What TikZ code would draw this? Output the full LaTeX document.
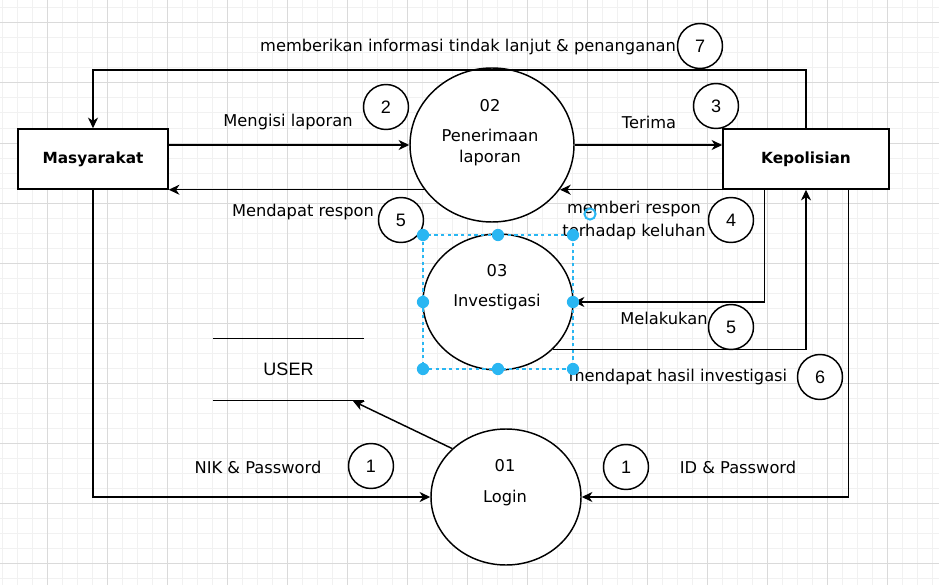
\documentclass[tikz,border=0pt]{standalone}
\usepackage{fontspec}
\setmainfont{DejaVu Sans}
\newfontfamily\arialf{Liberation Sans}
\usetikzlibrary{arrows.meta,shapes.geometric}
\definecolor{gmin}{HTML}{F1F1F1}
\definecolor{gmaj}{HTML}{DADADA}
\definecolor{sel}{HTML}{29B6F2}
\tikzset{
  ln/.style={line width=1.1pt, draw=black},
  arr/.style={ln, -{Stealth[length=8pt,width=7.5pt,inset=2.5pt]}},
  ent/.style={rectangle, ln, fill=white, inner sep=0pt, font=\fontsize{11.5}{14}\selectfont\bfseries},
  proc/.style={ellipse, ln, fill=white, inner sep=0pt, minimum width=112.5pt, minimum height=102pt},
  txt/.style={inner sep=0pt, font=\fontsize{12.2}{14}\selectfont},
  num/.style={circle, ln, fill=white, inner sep=0pt, minimum size=33.75pt, font=\arialf\fontsize{13.5}{16}\selectfont},
}
\begin{document}
\begin{tikzpicture}[x=0.75pt,y=-0.75pt]
\useasboundingbox (0,0) rectangle (939,585);
\fill[white] (0,0) rectangle (939,585);
% grid
\foreach \x in {2,17,...,938} \draw[gmin, line width=0.75pt] (\x,0) -- (\x,585);
\foreach \y in {8,23,...,584} \draw[gmin, line width=0.75pt] (0,\y) -- (939,\y);
\foreach \x in {47,107,...,938} \draw[gmaj, line width=0.75pt] (\x,0) -- (\x,585);
\foreach \y in {23,83,...,584} \draw[gmaj, line width=0.75pt] (0,\y) -- (939,\y);

% entities
\node[ent, minimum width=112.5pt, minimum height=45pt] (mas) at (93,159) {Masyarakat};
\node[ent, minimum width=124.5pt, minimum height=45pt] (kep) at (806,159) {Kepolisian};

% processes
\node[proc, minimum width=123pt, minimum height=115.5pt] (p02) at (492,145) {};
\node[proc] (p03) at (498,302) {};
\node[proc] (l01) at (506,497) {};

\node[txt] (p02a) at (490,106) {02};
\node[txt] (p02b) at (490,135) {Penerimaan};
\node[txt] (p02c) at (490,158) {laporan};
\node[txt] (p03a) at (497,271) {03};
\node[txt] (p03b) at (497,302) {Investigasi};
\node[txt] (l01a) at (505,466) {01};
\node[txt] (l01b) at (505,498) {Login};

% data store
\node[inner sep=0pt, minimum width=113.25pt, minimum height=45.75pt, font=\arialf\fontsize{13.5}{16}\selectfont] (usr) at (288.5,369.5) {USER};
\draw[ln] (usr.north west) -- (usr.north east);
\draw[ln] (usr.south west) -- (usr.south east);
\coordinate (utip) at (353,401);

% connectors
\coordinate (t7) at (806,70);
\draw[arr] (kep.north) -- (t7) -| (mas.north);
\draw[arr] (mas.east |- p02.west) -- (p02.west);
\draw[arr] (p02.east) -- (p02.east -| kep.west);
\draw[arr] (kep.south west) -- (p02.-33.3 |- kep.south west);
\draw[arr] (p02.-146.7 |- mas.south east) -- (mas.south east);
\draw[arr] ([xshift=31.5pt]kep.south west) |- (p03.east);
\draw[arr] (p03.-41) -- (p03.-41 -| kep.south) -- (kep.south);
\draw[arr] (mas.south) |- (l01.west);
\draw[arr] ([xshift=-30.75pt]kep.south east) |- (l01.east);
\draw[arr] (l01.138) -- (utip);

% labels
\node[txt] (lb7) at (468,47) {memberikan informasi tindak lanjut \& penanganan};
\node[num] (n7) at (700,46) {7};
\node[txt] (lb2) at (288,122) {Mengisi laporan};
\node[num] (n2) at (386,107) {2};
\node[txt] (lb3) at (649,122) {Terima};
\node[num] (n3) at (716,106) {3};
\node[txt] (lb5a) at (303,212) {Mendapat respon};
\node[num] (n5a) at (401,220) {5};
\node[txt] (lb4a) at (634,209) {memberi respon};
\node[txt] (lb4b) at (634,232) {terhadap keluhan};
\node[num] (n4) at (731,220) {4};
\node[txt] (lb5b) at (664,318) {Melakukan};
\node[num] (n5b) at (731,327) {5};
\node[txt] (lb6) at (678,377) {mendapat hasil investigasi};
\node[num] (n6) at (820,377) {6};
\node[txt] (lb1a) at (258,467) {NIK \& Password};
\node[num] (n1a) at (371,466) {1};
\node[num] (n1b) at (626,467) {1};
\node[txt] (lb1b) at (738,467) {ID \& Password};

% selection of process 03
\draw[sel, line width=1pt, dash pattern=on 2.5pt off 2.5pt] (423,235) rectangle (573,369);
\foreach \p in {(423,235),(498,235),(573,235),(423,302),(573,302),(423,369),(498,369),(573,369)}
  \fill[sel] \p circle (4.6pt);
\draw[sel, line width=1.5pt] (590,214) circle (4.2pt);
\end{tikzpicture}
\end{document}
